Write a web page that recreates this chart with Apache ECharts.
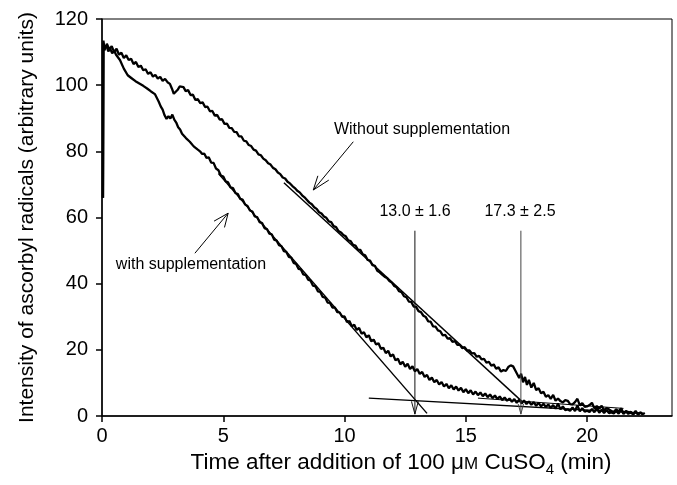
<!DOCTYPE html>
<html>
<head>
<meta charset="utf-8">
<script src="https://cdn.jsdelivr.net/npm/echarts@6/dist/echarts.min.js"></script>
<style>
  html, body { margin: 0; padding: 0; background: #fff; }
  #chart { width: 677px; height: 485px; }
</style>
</head>
<body>
<div id="chart"></div>
<script>
// ascorbyl radical decay traces, [time (min), intensity]
const withoutSupp = [
  [0.04,66],[0.06,113.5],[0.1,110.5],[0.2,112.5],[0.3,110.8],[0.4,111.8],[0.5,110],[0.6,111],[0.7,109.2],[0.8,109.8],
  [0.9,108.2],[1.0,109],[1.1,107.6],[1.2,108],[1.3,106.4],[1.4,107],[1.5,105.5],[1.6,105.9],[1.7,104.5],[1.8,104.8],
  [1.9,103.4],[2.0,103.9],[2.1,102.6],[2.2,103.1],[2.3,102],[2.4,102.5],[2.5,101.3],[2.6,101.9],[2.7,100.9],[2.8,100.4],
  [2.88,99],[2.96,97.4],[3.04,97.9],[3.12,98.6],[3.2,99.6],[3.28,99.1],[3.36,99.4],[3.45,98.2],[3.55,98.5],[3.65,97],
  [3.75,97.1],[3.85,95.5],[3.95,95.8],[4.05,94.6],[4.15,94.8],[4.25,93.4],[4.35,93.5],[4.45,92.1],[4.55,92.2],[4.65,90.8],
  [4.75,91],[4.85,89.6],[4.95,89.7],[5.05,88.3],[5.15,88.4],[5.25,87.1],[5.35,87],[5.45,85.9],[5.55,85.8],[5.65,84.5],
  [5.75,84.5],[5.85,83.2],[5.95,83],[6.05,81.9],[6.15,81.6],[6.25,80.5],[6.35,80.2],[6.45,79.1],[6.55,78.8],[6.65,77.8],
  [6.75,77.3],[6.85,76.4],[6.95,76],[7.05,75],[7.15,74.6],[7.25,73.6],[7.35,73.1],[7.45,72.1],[7.55,71.8],[7.65,70.8],
  [7.75,70.3],[7.85,69.5],[7.95,68.9],[8.05,68.1],[8.15,67.6],[8.25,66.7],[8.35,66.1],[8.45,65.3],[8.55,64.5],[8.65,64],
  [8.75,63.1],[8.85,62.6],[8.95,61.6],[9.05,61.2],[9.15,60.3],[9.25,59.9],[9.35,58.8],[9.45,58.6],[9.55,57.4],[9.65,57.1],
  [9.75,55.9],[9.85,55.5],[9.95,54.7],[10.05,54.3],[10.15,53.1],[10.25,52.9],[10.35,51.7],[10.45,51.5],[10.55,50.3],[10.65,50.2],
  [10.75,48.9],[10.85,48.6],[10.95,47.2],[11.05,47],[11.15,45.6],[11.25,45.4],[11.35,43.9],[11.45,43.4],[11.55,42.7],[11.65,42.1],
  [11.75,41.7],[11.85,40.8],[11.95,40.3],[12.05,39.3],[12.15,38.9],[12.25,37.7],[12.35,37.4],[12.45,36.2],[12.55,35.9],[12.65,34.6],
  [12.75,34.5],[12.85,33.1],[12.95,33],[13.05,31.7],[13.15,31.4],[13.25,30.3],[13.35,29.9],[13.45,28.6],[13.55,28.5],[13.65,27.1],
  [13.75,27],[13.85,25.9],[13.95,25.6],[14.05,24.4],[14.15,24.5],[14.25,23.4],[14.35,23.5],[14.45,22.4],[14.55,22.6],[14.65,21.5],
  [14.75,21.6],[14.85,20.5],[14.95,20.8],[15.05,19.8],[15.15,19.8],[15.25,18.9],[15.35,19],[15.45,17.9],[15.55,18.2],[15.65,17.1],
  [15.75,17.3],[15.85,16.1],[15.95,16.4],[16.05,15.2],[16.15,15.6],[16.25,14.3],[16.35,14.7],[16.45,13.4],[16.55,13.9],[16.65,13.6],
  [16.75,14.8],[16.85,15.3],[16.95,15],[17.05,13.6],[17.12,14.2],[17.2,11.5],[17.28,12.8],[17.36,10.2],[17.44,11.8],[17.52,9.4],
  [17.6,10.9],[17.7,8.6],[17.8,10],[17.9,7.8],[18.0,8.4],[18.1,6.9],[18.2,7.3],[18.3,5.8],[18.4,6.3],[18.5,5.2],
  [18.6,6.4],[18.7,4.6],[18.8,5.3],[18.9,4.5],[19.0,4.1],[19.1,4.8],[19.2,4.6],[19.3,3.6],[19.4,3.5],[19.5,4.2],
  [19.6,5.2],[19.7,3.2],[19.8,3.9],[19.9,2.8],[20.0,2.9],[20.1,3.3],[20.2,4.0],[20.3,2.3],[20.4,3],[20.5,2.2],
  [20.6,3.1],[20.7,1.7],[20.8,2.4],[20.9,2.0],[21.0,1.5],[21.1,1.2],[21.2,2],[21.3,1.4],[21.4,2.3],[21.5,0.9],
  [21.6,1.5],[21.7,1.2],[21.8,0.9],[21.9,0.6],[22.0,1.5],[22.1,0.5],[22.2,1.1],[22.3,0.6],[22.38,0.9]
];

const withSupp = [
  [0.04,66],[0.06,112.8],[0.1,111],[0.18,112],[0.26,110.2],[0.34,111],[0.42,109.6],[0.5,110.4],[0.58,109.2],[0.66,109.8],
  [0.74,107.6],[0.82,107.9],[0.9,105],[0.98,104.6],[1.06,103],[1.14,103.6],[1.22,102.1],[1.3,102.5],[1.38,101.2],[1.46,101.7],
  [1.54,100.5],[1.62,100.9],[1.7,99.8],[1.78,100.3],[1.86,99],[1.94,99.4],[2.02,98.1],[2.1,98.4],[2.18,97.3],[2.26,96.8],
  [2.34,95],[2.42,93.6],[2.5,92.6],[2.58,90.9],[2.66,89.8],[2.74,90.6],[2.82,89.9],[2.9,91.1],[2.98,89.6],[3.06,88.7],
  [3.14,87.3],[3.22,86.6],[3.3,85.3],[3.38,85.4],[3.46,84],[3.54,84.2],[3.62,82.9],[3.7,82.9],[3.78,81.5],[3.86,81.7],
  [3.95,80.5],[4.04,80],[4.13,79.2],[4.22,79.3],[4.31,78],[4.4,78.2],[4.5,76.6],[4.6,76.5],[4.7,74.8],[4.8,74.3],
  [4.9,72.7],[5.0,72.4],[5.1,70.9],[5.2,70.6],[5.3,69.1],[5.4,68.9],[5.5,67.4],[5.6,67.1],[5.7,65.6],[5.8,65.4],
  [5.9,63.9],[6.0,63.5],[6.1,62.1],[6.2,61.8],[6.3,60.3],[6.4,60.1],[6.5,58.6],[6.6,58.3],[6.7,56.8],[6.8,56.5],
  [6.9,55.1],[7.0,54.9],[7.1,53.3],[7.2,53],[7.3,51.6],[7.4,51.3],[7.5,49.8],[7.6,49.6],[7.7,48.1],[7.8,47.9],
  [7.9,46.3],[8.0,46],[8.1,44.5],[8.2,44.3],[8.3,42.8],[8.4,42.6],[8.5,41.2],[8.6,40.9],[8.7,39.4],[8.8,39.2],
  [8.9,37.7],[9.0,37.5],[9.1,36],[9.2,35.8],[9.3,34.3],[9.4,34.2],[9.5,32.8],[9.6,32.8],[9.7,31.4],[9.8,31.3],
  [9.9,30],[10.0,30.1],[10.1,28.4],[10.2,28.7],[10.3,27.1],[10.4,27.6],[10.5,26],[10.6,26.6],[10.7,24.9],[10.8,25.3],
  [10.9,23.8],[11.0,24.4],[11.1,22.6],[11.2,23.1],[11.3,21.6],[11.4,22],[11.5,20.3],[11.6,20.6],[11.7,19],[11.8,19.7],
  [11.9,18],[12.0,18.6],[12.1,16.8],[12.2,17.3],[12.3,15.6],[12.4,16.4],[12.5,14.9],[12.6,15.8],[12.7,14.2],[12.8,15],
  [12.9,13.5],[13.0,14.2],[13.1,12.7],[13.2,13.3],[13.3,11.8],[13.4,12.4],[13.5,10.9],[13.6,11.6],[13.7,10.2],[13.8,10.9],
  [13.9,9.5],[14.0,10.3],[14.1,8.9],[14.2,9.7],[14.3,8.4],[14.4,9.3],[14.5,8],[14.6,8.9],[14.7,7.7],[14.8,8.5],
  [14.9,7.2],[15.0,8.1],[15.1,6.9],[15.2,7.8],[15.3,6.5],[15.4,7.4],[15.5,6.3],[15.6,7.1],[15.7,6],[15.8,6.8],
  [15.9,5.7],[16.0,6.5],[16.1,5.4],[16.2,6.2],[16.3,5.1],[16.4,5.9],[16.5,4.8],[16.6,5.6],[16.7,4.6],[16.8,5.3],
  [16.9,4.3],[17.0,5.1],[17.1,4],[17.2,4.9],[17.3,3.8],[17.4,4.7],[17.5,3.6],[17.6,4.4],[17.7,3.4],[17.8,4.2],
  [17.9,3.1],[18.0,4],[18.1,2.9],[18.2,3.7],[18.3,2.7],[18.4,3.5],[18.5,2.4],[18.6,3.3],[18.7,2.2],[18.8,3.8],
  [18.9,2],[19.0,2.9],[19.1,1.8],[19.2,2.0],[19.3,1.6],[19.4,2.6],[19.5,1.5],[19.6,3.2],[19.7,1.4],[19.8,2.4],
  [19.9,1.3],[20.0,1.6],[20.1,1.2],[20.2,2.1],[20.3,1.1],[20.4,2.6],[20.5,1],[20.6,1.9],[20.7,0.9],[20.8,1.8],
  [20.9,0.9],[21.0,1.1],[21.1,0.8],[21.2,1.6],[21.3,0.7],[21.4,2.0],[21.5,0.6],[21.6,1.4],[21.7,0.6],[21.8,1.3],
  [21.9,0.5],[22.0,1.2],[22.1,0.5],[22.2,1],[22.3,0.4]
];

// fitted straight lines
const fitWithout = [[7.5, 70.5], [17.3, 4.5]];
const fitWith = [[4.8, 73.3], [13.4, 0.8]];
const baseFit1 = [[11, 5.4], [22.2, 0.9]];
const baseFit2 = [[15.5, 5.4], [21.5, 2.3]];

// end-point markers (vertical lines + open arrow heads)
const mark13 = [[12.9, 56], [12.9, 0.5]];
const mark13Head = [[12.76, 4.4], [12.9, 0.6], [13.04, 4.4]];
const mark17 = [[17.27, 56], [17.27, 0.5]];
const mark17Head = [[17.16, 3.6], [17.27, 0.6], [17.38, 3.6]];

// label arrows
const arrowWithout = [[10.36, 82.9], [8.71, 68.3]];
const arrowWithoutHead = [[8.9, 72.6], [8.71, 68.3], [9.35, 71.3]];
const arrowWith = [[3.83, 49.2], [5.2, 61.3]];
const arrowWithHead = [[4.62, 58.9], [5.2, 61.3], [5.05, 57.0]];

const xTicks = [0, 5, 10, 15, 20];

const FONT = "Liberation Sans, Arial, Helvetica, sans-serif";

function plain(data, width, color) {
  return {
    type: "line",
    data: data,
    symbol: "none",
    silent: true,
    lineStyle: { color: color || "#000", width: width },
  };
}

const chart = echarts.init(document.getElementById("chart"));

chart.setOption({
  animation: false,
  textStyle: { fontFamily: FONT },
  grid: {
    left: 102,
    right: 5,
    top: 19,
    bottom: 69,
    show: true,
    borderColor: "#000",
    borderWidth: 1,
  },
  xAxis: {
    type: "value",
    min: 0,
    max: 23.5,
    name: "Time after addition of 100 {mu|μ}{sc|M} CuSO{sub|4} (min)",
    nameLocation: "middle",
    nameGap: 24,
    nameTextStyle: {
      color: "#000",
      fontSize: 22.5,
      fontFamily: FONT,
      padding: [0, 0, 0, 28],
      rich: {
        mu: { fontSize: 22.5, fontFamily: FONT, color: "#000" },
        sc: { fontSize: 17, fontFamily: FONT, color: "#000", padding: [4, 0, 0, 0] },
        sub: { fontSize: 15, fontFamily: FONT, color: "#000", padding: [14, 0, 0, 0] },
      },
    },
    axisLine: { lineStyle: { color: "#000", width: 1.5 } },
    axisTick: { customValues: xTicks, length: 6, lineStyle: { color: "#000", width: 1.5 } },
    axisLabel: { customValues: xTicks, color: "#000", fontSize: 20, margin: 10 },
    splitLine: { show: false },
  },
  yAxis: {
    type: "value",
    min: 0,
    max: 120,
    interval: 20,
    name: "Intensity of ascorbyl radicals (arbitrary units)",
    nameLocation: "middle",
    nameGap: 64,
    nameTextStyle: { color: "#000", fontSize: 21, fontFamily: FONT },
    axisLine: { lineStyle: { color: "#000", width: 1.5 } },
    axisTick: { length: 6, lineStyle: { color: "#000", width: 1.5 } },
    axisLabel: { color: "#000", fontSize: 20, margin: 14 },
    splitLine: { show: false },
  },
  series: [
    plain(withoutSupp, 2.3),
    plain(withSupp, 2.3),
    plain(fitWithout, 1.4),
    plain(fitWith, 1.4),
    plain(baseFit1, 1.3),
    plain(baseFit2, 1),
    plain(mark13, 1, "#111"),
    plain(mark13Head, 1, "#111"),
    plain(mark17, 1, "#444"),
    plain(mark17Head, 1, "#444"),
    plain(arrowWithout, 1),
    plain(arrowWithoutHead, 1),
    plain(arrowWith, 1),
    plain(arrowWithHead, 1),
  ],
  graphic: [
    { type: "text", x: 422, y: 130, style: { text: "Without supplementation", fill: "#000", font: "16px " + FONT, align: "center", verticalAlign: "middle" } },
    { type: "text", x: 191, y: 265, style: { text: "with supplementation", fill: "#000", font: "16px " + FONT, align: "center", verticalAlign: "middle" } },
    { type: "text", x: 415, y: 212, style: { text: "13.0 ± 1.6", fill: "#000", font: "16px " + FONT, align: "center", verticalAlign: "middle" } },
    { type: "text", x: 520, y: 212, style: { text: "17.3 ± 2.5", fill: "#000", font: "16px " + FONT, align: "center", verticalAlign: "middle" } },
  ],
});
</script>
</body>
</html>
